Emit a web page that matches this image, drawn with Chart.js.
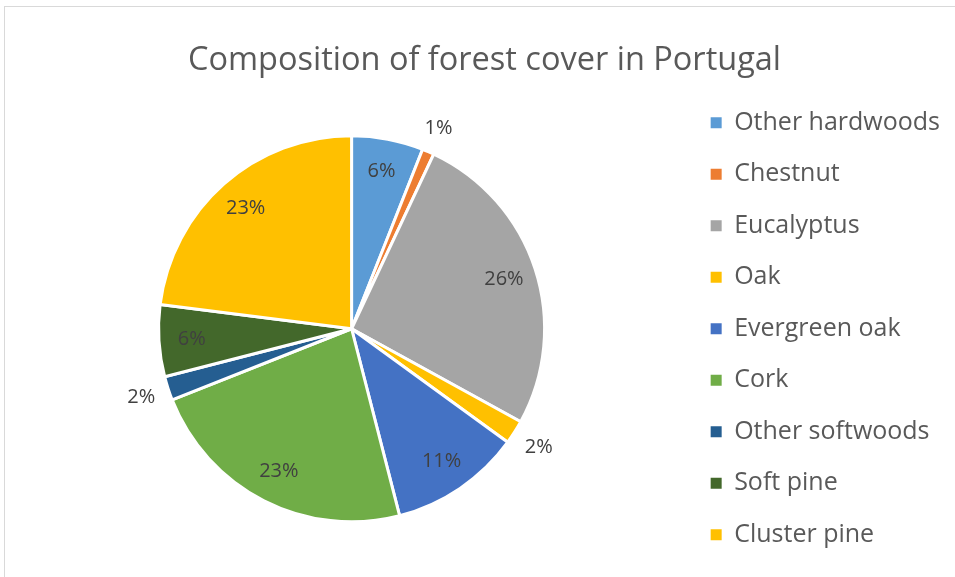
<!DOCTYPE html>
<html>
<head>
<meta charset="utf-8">
<script src="https://cdn.jsdelivr.net/npm/chart.js@4"></script>
<style>
    html, body { margin: 0; padding: 0; background: #fff; overflow: hidden; }
    #wrap { position: relative; width: 955px; height: 577px; }
    #frame { position: absolute; left: 4px; top: 6px; right: -10px; bottom: -10px;
             border-left: 1px solid #d9d9d9; border-top: 1px solid #d9d9d9; }
    canvas { position: absolute; left: 0; top: 0; }
</style>
</head>
<body>
<div id="wrap">
    <div id="frame"></div>
    <canvas id="myChart" width="955" height="577"></canvas>
</div>
<script>
const categories = ["Other hardwoods", "Chestnut", "Eucalyptus", "Oak", "Evergreen oak", "Cork", "Other softwoods", "Soft pine", "Cluster pine"];
const shares = [6, 1, 26, 2, 11, 23, 2, 6, 23];
const sliceColors = ["#5B9BD5", "#ED7D31", "#A5A5A5", "#FFC000", "#4472C4", "#70AD47", "#255E91", "#43682B", "#FFC000"];

const fontFamily = "'Open Sans', 'Noto Sans', sans-serif";

// percentage labels, small slices go outside the pie
const sliceLabels = {
    id: "sliceLabels",
    afterDatasetsDraw(chart) {
        const ctx = chart.ctx;
        const meta = chart.getDatasetMeta(0);
        const total = shares.reduce((a, b) => a + b, 0);
        ctx.save();
        ctx.font = "20px " + fontFamily;
        ctx.fillStyle = "#404040";
        ctx.textAlign = "center";
        ctx.textBaseline = "middle";
        meta.data.forEach((arc, i) => {
            const pct = Math.round((shares[i] / total) * 100);
            const text = pct + "%";
            const mid = (arc.startAngle + arc.endAngle) / 2;
            const dx = Math.cos(mid);
            const dy = Math.sin(mid);
            let r;
            if (pct < 3) {
                const w = ctx.measureText(text).width;
                r = arc.outerRadius + 12 + Math.abs(dx) * w / 2 + Math.abs(dy) * 9;
            } else {
                r = arc.outerRadius * 0.83;
            }
            ctx.fillText(text, arc.x + dx * r, arc.y + dy * r);
        });
        ctx.restore();
    },
};

const ctx = document.getElementById("myChart");
new Chart(ctx, {
    type: "pie",
    data: {
        labels: categories,
        datasets: [
            {
                data: shares,
                backgroundColor: sliceColors,
                borderColor: "#ffffff",
                borderWidth: 3,
                radius: 193,
            },
        ],
    },
    options: {
        responsive: false,
        animation: false,
        layout: { padding: { left: 19, right: 5, top: 0, bottom: 0 } },
        plugins: {
            title: {
                display: true,
                text: "Composition of forest cover in Portugal",
                color: "#595959",
                font: { family: fontFamily, size: 32.5, weight: "normal", lineHeight: 1.2 },
                padding: { top: 41.5, bottom: 0 },
            },
            legend: {
                position: "right",
                fullSize: false,
                labels: {
                    boxWidth: 11,
                    boxHeight: 11,
                    padding: 26.5,
                    color: "#595959",
                    font: { family: fontFamily, size: 25 },
                    generateLabels: (chart) =>
                        Chart.overrides.pie.plugins.legend.labels
                            .generateLabels(chart)
                            .map((item) => ({ ...item, lineWidth: 0, strokeStyle: item.fillStyle })),
                },
            },
            tooltip: { enabled: false },
        },
    },
    plugins: [sliceLabels],
});
</script>
</body>
</html>
